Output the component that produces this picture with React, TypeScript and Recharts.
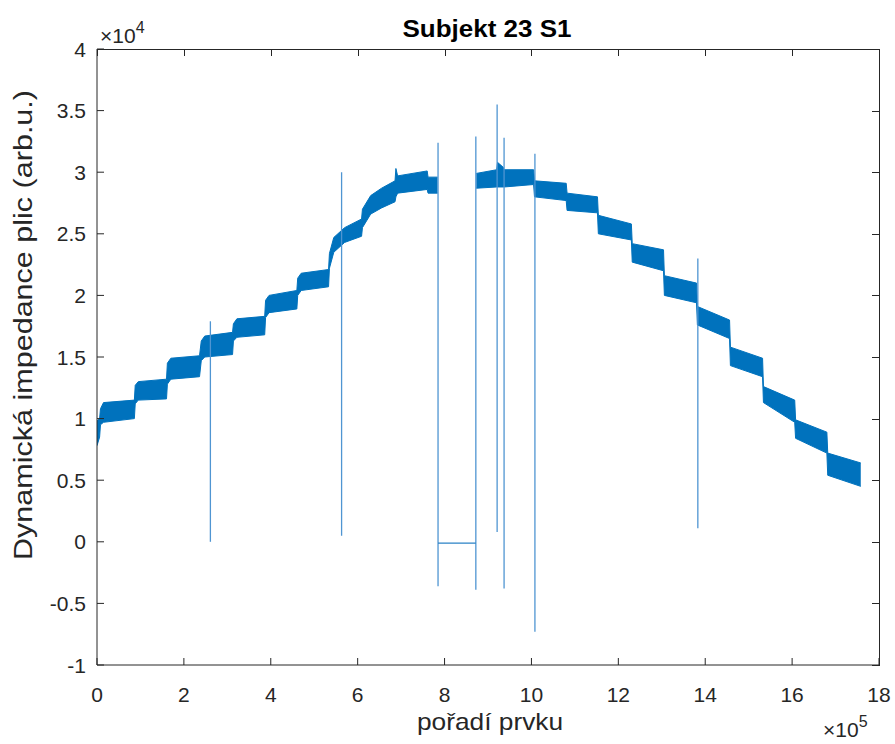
import { ComposedChart, Area, Line, XAxis, YAxis } from 'recharts';

// x in units of 1e5 samples, y in units of 1e4 (arb.u.)
const bandX = [
  0.0, 0.06, 0.08, 0.15, 0.86, 0.88, 0.95, 1.6, 1.62, 1.7, 2.36, 2.4, 2.48, 3.12, 3.14, 3.22,
  3.86, 3.88, 3.96, 4.6, 4.62, 4.7, 5.33, 5.35, 5.45, 5.7, 6.09, 6.11, 6.3, 6.55, 6.86, 6.88,
  6.92, 7.6, 7.62, 7.84, 8.3, 8.73, 9.2, 9.22, 9.35, 9.37, 10.05, 10.07, 10.8, 10.82, 11.52,
  11.54, 12.3, 12.32, 13.04, 13.06, 13.8, 13.82, 14.56, 14.58, 15.32, 15.34, 16.06, 16.08,
  16.8, 16.82, 17.58,
];
const bandLow = [
  0.78, 0.85, 0.95, 0.97, 1.0, 1.12, 1.15, 1.16, 1.28, 1.32, 1.34, 1.47, 1.5, 1.52, 1.63, 1.66,
  1.68, 1.82, 1.86, 1.89, 2.0, 2.04, 2.07, 2.22, 2.35, 2.43, 2.48, 2.55, 2.66, 2.71, 2.76, 2.8,
  2.83, 2.86, 2.83, 2.83, null, 2.87, 2.88, 2.88, 2.88, 2.88, 2.9, 2.8, 2.77, 2.69, 2.67,
  2.5, 2.45, 2.27, 2.2, 2.0, 1.94, 1.76, 1.65, 1.43, 1.34, 1.13, 0.97, 0.84,
  0.72, 0.54, 0.45,
];
const bandHigh = [
  0.98, 1.0, 1.08, 1.13, 1.15, 1.27, 1.3, 1.32, 1.45, 1.49, 1.51, 1.63, 1.67, 1.7, 1.77, 1.81,
  1.83, 1.96, 2.0, 2.04, 2.14, 2.18, 2.21, 2.34, 2.47, 2.55, 2.62, 2.7, 2.81, 2.87, 2.93, 3.03,
  2.97, 3.01, 2.96, 2.96, null, 2.99, 3.02, 3.08, 3.04, 3.02, 3.02, 2.93, 2.91, 2.83, 2.8,
  2.65, 2.58, 2.42, 2.37, 2.16, 2.1, 1.91, 1.8, 1.58, 1.49, 1.26, 1.15, 0.99,
  0.89, 0.72, 0.64,
];

const spikeX = [2.61, 5.63, 7.85, 8.72, 9.21, 9.37, 10.08, 13.83];
const spikeTop = [1.79, 3.0, 3.24, 3.29, 3.55, 3.28, 3.15, 2.3];
const spikeBottom = [0.0, 0.05, -0.36, -0.39, 0.08, -0.38, -0.73, 0.11];

const dropoutX = [7.85, 8.72];
const dropoutY = [-0.01, -0.01];

const xTicks = [0, 2, 4, 6, 8, 10, 12, 14, 16, 18];
const yTicks = [-1, -0.5, 0, 0.5, 1, 1.5, 2, 2.5, 3, 3.5, 4];

const bandData = bandX.map((x, i) => ({
  x,
  band: bandLow[i] == null ? null : [bandLow[i], bandHigh[i]],
}));
const spikes = spikeX.map((x, i) => [
  { x, y: spikeTop[i] },
  { x, y: spikeBottom[i] },
]);
const dropout = dropoutX.map((x, i) => ({ x, y: dropoutY[i] }));

const W = 895;
const H = 744;
const INK = '#262626';
const BLUE = '#0072BD';
const FONT = '"Liberation Sans", Arial, Helvetica, sans-serif';
const X_MIN = 0;
const X_MAX = 18;
const Y_MIN = -1;
const Y_MAX = 4;

// plot box (MATLAB axes position)
const PLOT_L = 97;
const PLOT_T = 49;
const PLOT_R = 879;
const PLOT_B = 665;
const Y_AXIS_W = 60;
const X_AXIS_H = 40;
const TICK = 7;

const BottomTick = ({ x, y, payload }: any) => (
  <g>
    <line x1={x} y1={y} x2={x} y2={y - TICK} stroke={INK} />
    <text x={x} y={y + 37} textAnchor="middle" fontSize={21} fill={INK} fontFamily={FONT}>
      {payload.value}
    </text>
  </g>
);
const LeftTick = ({ x, y, payload }: any) => (
  <g>
    <line x1={x} y1={y} x2={x + TICK} y2={y} stroke={INK} />
    <text x={x - 11} y={y + 7.5} textAnchor="end" fontSize={21} fill={INK} fontFamily={FONT}>
      {payload.value}
    </text>
  </g>
);

const segLine = (key: string, data: any[], stroke: string, width: number) => (
  <Line
    key={key}
    data={data}
    dataKey="y"
    type="linear"
    stroke={stroke}
    strokeWidth={width}
    dot={false}
    activeDot={false}
    isAnimationActive={false}
  />
);

// top/right edges of the MATLAB box with inward ticks, as plain HTML boxes
const px = (v: number) => PLOT_L + ((v - X_MIN) / (X_MAX - X_MIN)) * (PLOT_R - PLOT_L);
const py = (v: number) => PLOT_B - ((v - Y_MIN) / (Y_MAX - Y_MIN)) * (PLOT_B - PLOT_T);
const bar = (left: number, top: number, width: number, height: number): any => ({
  position: 'absolute',
  left,
  top,
  width,
  height,
  background: INK,
});

const Frame = () => (
  <>
    <div style={bar(PLOT_L, PLOT_T, PLOT_R - PLOT_L + 1, 1)} />
    <div style={bar(PLOT_R, PLOT_T, 1, PLOT_B - PLOT_T + 1)} />
    {xTicks.map((t) => (
      <div key={`tt-${t}`} style={bar(Math.round(px(t)), PLOT_T, 1, TICK)} />
    ))}
    {yTicks.map((t) => (
      <div key={`rt-${t}`} style={bar(PLOT_R - TICK, Math.round(py(t)), TICK, 1)} />
    ))}
  </>
);

const App = () => {
  return (
    <div style={{ position: 'absolute', left: 0, top: 0, width: W, height: H, background: '#fff' }}>
      <ComposedChart
        width={W}
        height={H}
        data={bandData}
        margin={{
          top: PLOT_T,
          right: W - PLOT_R,
          bottom: H - PLOT_B - X_AXIS_H,
          left: PLOT_L - Y_AXIS_W,
        }}
      >
        <XAxis
          type="number"
          dataKey="x"
          domain={[X_MIN, X_MAX]}
          ticks={xTicks}
          height={X_AXIS_H}
          tickSize={0}
          tickMargin={0}
          tickLine={false}
          tick={BottomTick}
          axisLine={{ stroke: INK }}
          allowDataOverflow
        />
        <YAxis
          type="number"
          domain={[Y_MIN, Y_MAX]}
          ticks={yTicks}
          width={Y_AXIS_W}
          tickSize={0}
          tickMargin={0}
          tickLine={false}
          tick={LeftTick}
          axisLine={{ stroke: INK }}
          allowDataOverflow
        />
        <Area
          type="linear"
          dataKey="band"
          stroke={BLUE}
          strokeWidth={1}
          fill={BLUE}
          fillOpacity={1}
          connectNulls={false}
          dot={false}
          activeDot={false}
          isAnimationActive={false}
        />
        {spikes.map((s, i) => segLine(`spike-${i}`, s, '#4f95d2', 1.3))}
        {segLine('dropout', dropout, '#2a82c6', 1.3)}
      </ComposedChart>
      <Frame />
      <svg
        width={W}
        height={H}
        style={{ position: 'absolute', left: 0, top: 0, pointerEvents: 'none' }}
        fontFamily={FONT}
      >
        <text x={487} y={37} textAnchor="middle" fontSize={23} fontWeight="bold" fill="#000" textLength={169} lengthAdjust="spacingAndGlyphs">
          Subjekt 23 S1
        </text>
        <text x={490} y={730} textAnchor="middle" fontSize={24} fill={INK} textLength={146} lengthAdjust="spacingAndGlyphs">
          pořadí prvku
        </text>
        <text
          x={0}
          y={0}
          transform="translate(32 325) rotate(-90)"
          textAnchor="middle"
          fontSize={25}
          fill={INK}
          textLength={470}
          lengthAdjust="spacingAndGlyphs"
        >
          Dynamická impedance plic (arb.u.)
        </text>
        <text x={100} y={43} fontSize={21} fill={INK}>
          ×10<tspan dy={-10} fontSize={16}>4</tspan>
        </text>
        <text x={823} y={737} fontSize={21} fill={INK}>
          ×10<tspan dy={-10} fontSize={16}>5</tspan>
        </text>
      </svg>
    </div>
  );
};

export default App;
